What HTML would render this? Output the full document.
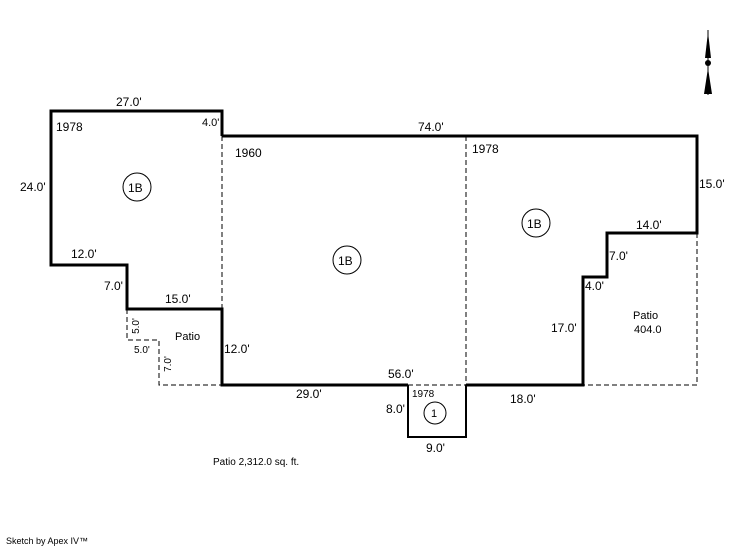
<!DOCTYPE html>
<html><head><style>
body{margin:0;background:#fff;width:746px;height:547px;overflow:hidden}
text{font-family:"Liberation Sans",sans-serif;fill:#000}
</style></head><body>
<svg width="746" height="547" xmlns="http://www.w3.org/2000/svg">
<g fill="none" stroke="#000" stroke-width="3">
<polyline points="222,136 222,111 51,111 51,265 127,265 127,309 222,309 222,385 408,385"/>
<polyline points="466,385 583,385 583,277 607,277 607,233 697,233 697,136 222,136"/>
<polyline points="408,385 408,437 466,437 466,385" stroke-width="2"/>
</g>
<g fill="none" stroke="#000" stroke-width="1" stroke-dasharray="5,3">
<line x1="222" y1="136" x2="222" y2="309"/>
<line x1="466" y1="136" x2="466" y2="385"/>
<line x1="408" y1="385" x2="466" y2="385"/>
<polyline points="697,233 697,385 583,385"/>
<polyline points="127,309 127,340 159,340 159,385 222,385"/>
</g>
<g fill="none" stroke="#000" stroke-width="1">
<circle cx="137" cy="187" r="14"/>
<circle cx="347" cy="260" r="14"/>
<circle cx="536" cy="223" r="14"/>
<circle cx="435" cy="413" r="11"/>
</g>
<g font-size="12">
<text x="116" y="106">27.0'</text>
<text x="202" y="126" font-size="11">4.0'</text>
<text x="56" y="131">1978</text>
<text x="20" y="191">24.0'</text>
<text x="128" y="192">1B</text>
<text x="71" y="258">12.0'</text>
<text x="104" y="290">7.0'</text>
<text x="165" y="303">15.0'</text>
<text x="175" y="340" font-size="11">Patio</text>
<text x="134" y="353" font-size="10">5.0'</text>
<text x="224" y="353">12.0'</text>
<text x="235" y="157">1960</text>
<text x="418" y="131">74.0'</text>
<text x="472" y="153">1978</text>
<text x="338" y="265">1B</text>
<text x="527" y="228">1B</text>
<text x="699" y="188">15.0'</text>
<text x="636" y="229">14.0'</text>
<text x="609" y="260">7.0'</text>
<text x="585" y="290">4.0'</text>
<text x="551" y="332">17.0'</text>
<text x="633" y="319" font-size="11">Patio</text>
<text x="634" y="333" font-size="11">404.0</text>
<text x="296" y="398">29.0'</text>
<text x="388" y="378">56.0'</text>
<text x="412" y="397" font-size="10">1978</text>
<text x="386" y="413">8.0'</text>
<text x="431" y="417" font-size="11">1</text>
<text x="510" y="403">18.0'</text>
<text x="426" y="452">9.0'</text>
<text x="213" y="465" font-size="10">Patio 2,312.0 sq. ft.</text>
<text x="6" y="544" font-size="9">Sketch by Apex IV™</text>
</g>
<text font-size="10" transform="translate(139,326) rotate(-90)" text-anchor="middle">5.0'</text>
<text font-size="10" transform="translate(171,364) rotate(-90)" text-anchor="middle">7.0'</text>
<g fill="#000">
<polygon points="708,32 705,58 711,58"/>
<circle cx="708" cy="63" r="3"/>
<polygon points="708,68 704,94 712,94 "/>
<line x1="708" y1="30" x2="708" y2="95" stroke="#000"/>
</g>
</svg>
</body></html>
